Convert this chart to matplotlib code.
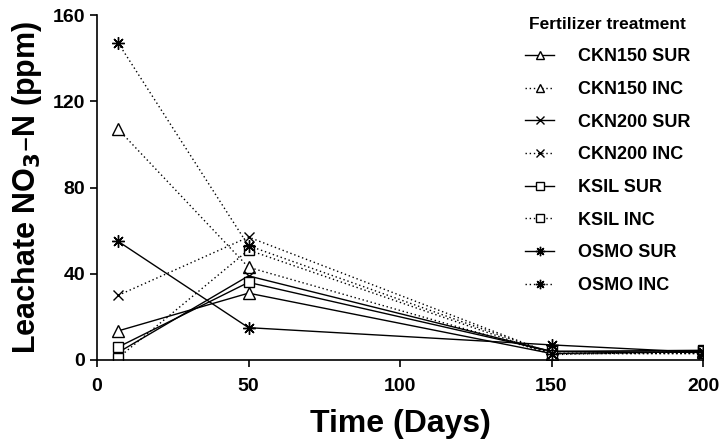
import matplotlib
matplotlib.use("Agg")
import matplotlib.pyplot as plt

days = [7, 50, 150, 200]
series_names = ["CKN150 SUR", "CKN150 INC", "CKN200 SUR", "CKN200 INC",
                "KSIL SUR", "KSIL INC", "OSMO SUR", "OSMO INC"]
ckn150_sur = [13.5, 31, 3, 4]
ckn150_inc = [107, 43, 3, 3.5]
ckn200_sur = [3.5, 39, 4, 3.5]
ckn200_inc = [30, 57, 3, 3]
ksil_sur = [6, 36, 4, 4.5]
ksil_inc = [1, 51, 2.5, 4]
osmo_sur = [55, 15, 7, 3.5]
osmo_inc = [147, 53, 3, 3]
values = [ckn150_sur, ckn150_inc, ckn200_sur, ckn200_inc,
          ksil_sur, ksil_inc, osmo_sur, osmo_inc]
xticks = [0, 50, 100, 150, 200]
yticks = [0, 40, 80, 120, 160]

plt.rcParams['font.family'] = ['Liberation Sans', 'DejaVu Sans']
plt.rcParams['font.weight'] = 'bold'

fig = plt.figure(figsize=(7.27, 4.41), dpi=100)
ax = fig.add_axes([97/727, 1-360/441, (703-97)/727, (360-15)/441])

markers = ['^', '^', 'x', 'x', 's', 's', (8, 2, 0), (8, 2, 0)]
sizes = [8, 8, 7, 7, 7, 7, 9, 9]
for i, (name, v) in enumerate(zip(series_names, values)):
    ls = '-' if 'SUR' in name else (0, (1, 2))
    ax.plot(days, v, color='black', linestyle=ls, linewidth=1.0,
            marker=markers[i], markersize=sizes[i], markerfacecolor='white',
            markeredgecolor='black', markeredgewidth=1.0, label=name)

ax.set_xlim(0, 200)
ax.set_ylim(0, 160)
ax.set_xticks(xticks)
ax.set_yticks(yticks)
ax.spines['top'].set_visible(False)
ax.spines['right'].set_visible(False)
ax.spines['left'].set_linewidth(1.2)
ax.spines['bottom'].set_linewidth(1.2)
ax.tick_params(direction='out', length=5, width=1.2, labelsize=14)
ax.tick_params(axis='x', pad=8)
for lab in ax.get_xticklabels() + ax.get_yticklabels():
    lab.set_fontweight('bold')

ax.set_xlabel('Time (Days)', fontsize=23, fontweight='heavy', labelpad=10)
ax.set_ylabel('Leachate NO$_\\mathbf{3}$\u2013N (ppm)', fontsize=22, fontweight='heavy', labelpad=6)

leg = ax.legend(loc='upper left', bbox_to_anchor=(0.68, 1.04), frameon=False,
                title='Fertilizer treatment', prop={'weight': 'bold', 'size': 13},
                handlelength=1.6, labelspacing=0.87, handletextpad=1.3,
                markerscale=0.75)
leg.get_title().set_fontweight('bold')
leg.get_title().set_fontsize(12.5)

fig.savefig('out.png', dpi=100)
